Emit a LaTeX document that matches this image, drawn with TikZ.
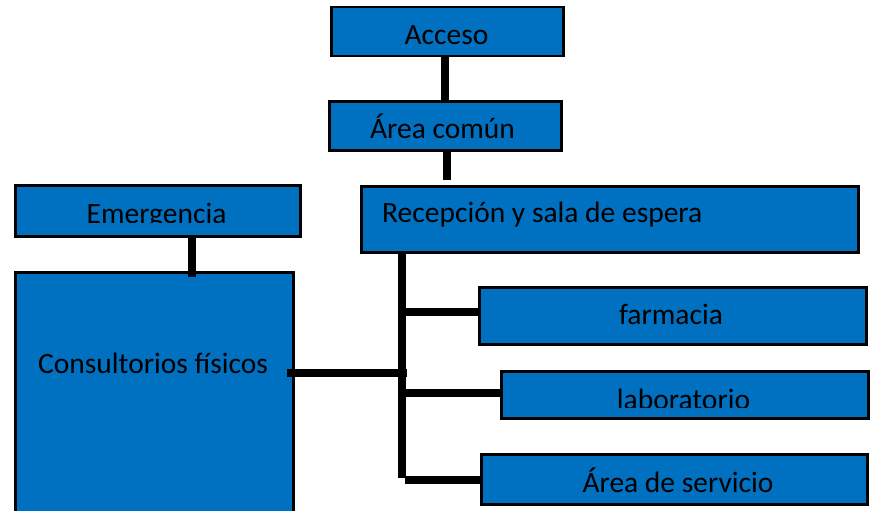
\documentclass[tikz,border=0pt]{standalone}
\usepackage{fontspec}
\setmainfont{Carlito}
\definecolor{boxblue}{HTML}{0070C0}
\begin{document}
\begin{tikzpicture}[x=1pt,y=-1pt,
  box/.style={draw=black, line width=2.5pt, fill=boxblue, rectangle, inner sep=0pt, anchor=north west},
  lbl/.style={anchor=base, inner sep=0pt, font=\fontsize{29.5}{31}\selectfont, text=black},
  conn/.style={line width=8pt, draw=black}]
\useasboundingbox (0,0) rectangle (870,511);
\clip (0,0) rectangle (870,511);
% boxes
\node[box, minimum width=232pt, minimum height=49pt] (acc) at (330,6) {};
\node[box, minimum width=232pt, minimum height=49pt] (area) at (328,100) {};
\node[box, minimum width=285pt, minimum height=51pt] (emer) at (14,184) {};
\node[box, minimum width=497pt, minimum height=66pt] (rec) at (360,185) {};
\node[box, minimum width=278pt, minimum height=250pt] (cons) at (14,271) {};
\node[box, minimum width=387pt, minimum height=57pt] (farm) at (478,286) {};
\node[box, minimum width=367pt, minimum height=47pt] (lab) at (500,370) {};
\node[box, minimum width=386pt, minimum height=50pt] (serv) at (480,453) {};
% labels
\node[lbl] (tacc) at (446.5,45) {Acceso};
\node[lbl] (tarea) at (442.5,138) {Área común};
\node[lbl, anchor=base west] (trec) at (382,222) {Recepción y sala de espera};
\begin{scope}
\clip (16,186) rectangle (297,222);
\node[lbl] (temer) at (156.5,223.5) {Emergencia};
\end{scope}
\node[lbl, anchor=base west] (tcons) at (38,373) {Consultorios físicos};
\node[lbl] (tfarm) at (671,324) {farmacia};
\begin{scope}
\clip (502,372) rectangle (865,407);
\node[lbl] (tlab) at (683.5,409) {laboratorio};
\end{scope}
\node[lbl] (tserv) at (678,492) {Área de servicio};
% connectors
\coordinate (ttop) at (402,252);
\coordinate (tbot) at (402,478);
\coordinate (bf) at (402,312);
\coordinate (bl) at (402,393);
\coordinate (bs) at (405,480);
\coordinate (bc) at (407,373);
\draw[conn] (acc.south -| 444.5,0) -- (area.north -| 444.5,0);
\draw[conn] (area.south -| 447,0) -- (447,180);
\draw[conn] (emer.south -| 192,0) -- (192,277);
\draw[conn] (ttop) -- (tbot);
\draw[conn] (bf) -- (bf -| farm.west);
\draw[conn] (bl) -- (bl -| lab.west);
\draw[conn] (bs) -- (bs -| serv.west);
\draw[conn] (bc) -- (287,373);
\end{tikzpicture}
\end{document}
